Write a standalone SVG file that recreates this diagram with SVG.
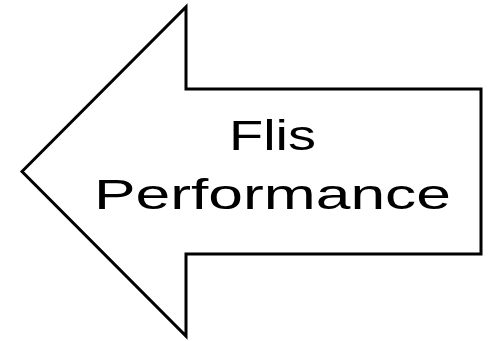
<svg xmlns="http://www.w3.org/2000/svg" width="489" height="341" viewBox="0 0 489 341">
<style>
.shape{fill:#fff;stroke:#000;stroke-width:3;stroke-linejoin:miter}
.lbl{font-family:"Liberation Sans",Arial,sans-serif;font-size:43px;fill:#000;text-anchor:middle}
</style>
<rect width="489" height="341" fill="#fff"/>
<g id="arrow">
<polygon class="shape" points="22,171.5 186,7 186,89 481,89 481,254 186,254 186,336"/>
<text class="lbl" x="272.5" y="150" textLength="87" lengthAdjust="spacingAndGlyphs">Flis</text>
<text class="lbl" x="272.5" y="209" textLength="357" lengthAdjust="spacingAndGlyphs">Performance</text>
</g>
</svg>
